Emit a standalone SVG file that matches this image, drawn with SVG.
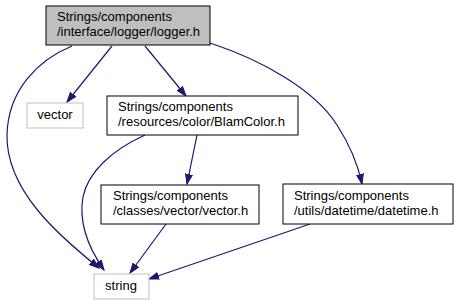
<svg xmlns="http://www.w3.org/2000/svg" width="458" height="305" viewBox="0 0 458 305">
<style>
text{font-family:"Liberation Sans",Arial,sans-serif;font-size:13px;fill:#000}
.n{fill:#fff;stroke:#000;stroke-width:1}
.g{fill:#fff;stroke:#bfbfbf;stroke-width:1}
.e{fill:none;stroke:#191970;stroke-width:1.2}
</style>
<defs>
<marker id="a" markerUnits="userSpaceOnUse" markerWidth="11" markerHeight="8" refX="10" refY="4" orient="auto">
<path d="M0,0.5 L10,4 L0,7.5 z" fill="#191970" stroke="#191970" stroke-width="1"/>
</marker>
</defs>
<g id="edges">
<path class="e" marker-end="url(#a)" d="M72,46 C38,60 8,90 7,135 C6,190 58,235 99,268"/>
<path class="e" marker-end="url(#a)" d="M112,46 L67,102"/>
<path class="e" marker-end="url(#a)" d="M145,46 L186,96"/>
<path class="e" marker-end="url(#a)" d="M210,43 C262,60 315,90 337,125 C350,145 358,165 362,184"/>
<path class="e" marker-end="url(#a)" d="M145,135 C112,150 88,172 83,197 C78,225 90,250 104,270"/>
<path class="e" marker-end="url(#a)" d="M197,135 L187,184"/>
<path class="e" marker-end="url(#a)" d="M166,224 L130,273"/>
<path class="e" marker-end="url(#a)" d="M310,224 L149,279"/>
</g>
<g id="logger">
<rect x="46" y="6" width="164" height="39" fill="#bfbfbf" stroke="#000"/>
<text x="57" y="21">Strings/components</text>
<text x="57" y="36">/interface/logger/logger.h</text>
</g>
<g id="vector">
<rect class="g" x="27" y="103" width="56" height="25"/>
<text x="55" y="119" text-anchor="middle">vector</text>
</g>
<g id="blamcolor">
<rect class="n" x="107" y="96" width="191" height="39"/>
<text x="118" y="111">Strings/components</text>
<text x="118" y="126">/resources/color/BlamColor.h</text>
</g>
<g id="vectorh">
<rect class="n" x="101" y="185" width="158" height="39"/>
<text x="113" y="200">Strings/components</text>
<text x="113" y="215">/classes/vector/vector.h</text>
</g>
<g id="datetime">
<rect class="n" x="283" y="184" width="170" height="40"/>
<text x="294" y="200">Strings/components</text>
<text x="294" y="215">/utils/datetime/datetime.h</text>
</g>
<g id="string">
<rect class="g" x="94" y="274" width="55" height="25"/>
<text x="121" y="290" text-anchor="middle">string</text>
</g>
</svg>
